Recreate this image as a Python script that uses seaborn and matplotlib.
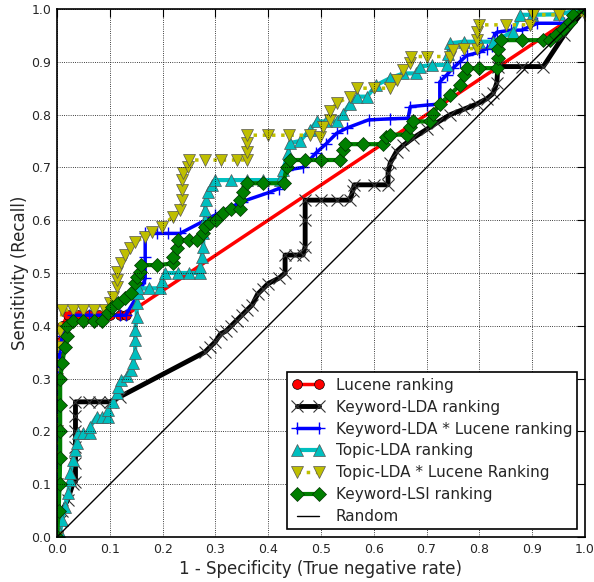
import matplotlib
matplotlib.use("Agg")
import matplotlib.pyplot as plt
import seaborn as sns

# ---------------- data ----------------
lucene_x = [0.0, 0.0, 0.0, 0.0, 0.0, 0.0, 0.0, 0.002, 0.005, 0.01, 0.02, 0.04, 0.06, 0.08, 0.10, 0.12, 0.13, 1.0]
lucene_y = [0.0, 0.05, 0.10, 0.15, 0.20, 0.25, 0.30, 0.34, 0.37, 0.40, 0.42, 0.42, 0.42, 0.42, 0.42, 0.42, 0.42, 1.0]

kwlda_x = [0.0, 0.005, 0.01, 0.02, 0.03, 0.035, 0.035, 0.035, 0.035, 0.035, 0.035, 0.06, 0.08, 0.10,
           0.12, 0.28, 0.29, 0.30, 0.31, 0.32, 0.33, 0.34, 0.35, 0.36, 0.37, 0.38, 0.39, 0.40, 0.42,
           0.432, 0.432, 0.45, 0.466, 0.47, 0.47, 0.47, 0.50, 0.53, 0.555, 0.56, 0.563, 0.60, 0.627,
           0.627, 0.631, 0.643, 0.656, 0.675, 0.70, 0.72, 0.745, 0.77, 0.795, 0.814, 0.826, 0.833,
           0.835, 0.88, 0.921, 0.96, 1.0]
kwlda_y = [0.0, 0.03, 0.05, 0.07, 0.10, 0.105, 0.14, 0.17, 0.20, 0.23, 0.256, 0.256, 0.256, 0.256,
           0.266, 0.35, 0.36, 0.37, 0.385, 0.39, 0.40, 0.41, 0.42, 0.43, 0.44, 0.46, 0.47, 0.48, 0.49,
           0.50, 0.534, 0.534, 0.534, 0.55, 0.60, 0.638, 0.638, 0.638, 0.638, 0.655, 0.667, 0.667, 0.667,
           0.69, 0.708, 0.73, 0.742, 0.756, 0.772, 0.785, 0.80, 0.81, 0.82, 0.83, 0.84, 0.86,
           0.891, 0.891, 0.891, 0.95, 1.0]

kwlda_luc_x = [0.0, 0.0, 0.0, 0.0, 0.005, 0.01, 0.02, 0.03, 0.06, 0.09, 0.12, 0.13, 0.16, 0.167, 0.167,
               0.167, 0.19, 0.21, 0.233, 0.30, 0.35, 0.40, 0.42, 0.435, 0.466, 0.49, 0.51, 0.53, 0.55,
               0.59, 0.63, 0.665, 0.669, 0.70, 0.725, 0.725, 0.738, 0.75, 0.763, 0.776, 0.80, 0.814,
               0.823, 0.826, 0.833, 0.86, 0.88, 0.91, 0.96, 0.98, 1.0]
kwlda_luc_y = [0.0, 0.10, 0.20, 0.30, 0.35, 0.38, 0.40, 0.42, 0.42, 0.42, 0.42, 0.42, 0.47, 0.49, 0.53,
               0.575, 0.575, 0.575, 0.575, 0.61, 0.635, 0.652, 0.66, 0.695, 0.70, 0.727, 0.745, 0.765, 0.775,
               0.79, 0.792, 0.793, 0.815, 0.818, 0.82, 0.862, 0.875, 0.888, 0.90, 0.912, 0.918, 0.925,
               0.93, 0.945, 0.956, 0.96, 0.96, 0.973, 0.973, 0.99, 1.0]

tlda_x = [0.0, 0.006, 0.009, 0.015, 0.021, 0.025, 0.025, 0.03, 0.034, 0.037, 0.04, 0.05, 0.063, 0.063,
          0.075, 0.085, 0.097, 0.097, 0.106, 0.113, 0.116, 0.122, 0.132, 0.141, 0.144, 0.148, 0.148,
          0.148, 0.151, 0.151, 0.153, 0.154, 0.175, 0.195, 0.198, 0.205, 0.23, 0.25, 0.27, 0.271, 0.274,
          0.277, 0.277, 0.28, 0.28, 0.283, 0.286, 0.293, 0.30, 0.33, 0.36, 0.39, 0.422, 0.428, 0.438,
          0.441, 0.46, 0.479, 0.492, 0.51, 0.53, 0.542, 0.555, 0.568, 0.587, 0.605, 0.631, 0.656, 0.68,
          0.687, 0.71, 0.738, 0.741, 0.744, 0.77, 0.80, 0.826, 0.864, 0.877, 0.90, 0.95, 1.0]
tlda_y = [0.0, 0.008, 0.032, 0.057, 0.083, 0.108, 0.121, 0.146, 0.165, 0.178, 0.197, 0.197, 0.197, 0.209,
          0.228, 0.228, 0.228, 0.24, 0.256, 0.272, 0.285, 0.297, 0.304, 0.316, 0.329, 0.348, 0.373,
          0.392, 0.417, 0.443, 0.462, 0.471, 0.471, 0.471, 0.484, 0.50, 0.50, 0.50, 0.50, 0.512, 0.531,
          0.55, 0.575, 0.60, 0.619, 0.638, 0.654, 0.667, 0.676, 0.676, 0.676, 0.676, 0.676, 0.695, 0.727,
          0.746, 0.75, 0.771, 0.787, 0.787, 0.787, 0.802, 0.821, 0.834, 0.834, 0.856, 0.869, 0.878, 0.878,
          0.891, 0.894, 0.894, 0.915, 0.935, 0.938, 0.938, 0.938, 0.957, 0.989, 0.989, 0.99, 1.0]

tlda_luc_x = [0.0, 0.0, 0.0, 0.0, 0.0, 0.005, 0.01, 0.03, 0.05, 0.07, 0.091, 0.10, 0.106, 0.113, 0.113,
              0.113, 0.122, 0.129, 0.138, 0.148, 0.167, 0.179, 0.198, 0.22, 0.233, 0.236, 0.236, 0.236,
              0.239, 0.248, 0.25, 0.28, 0.31, 0.34, 0.359, 0.359, 0.359, 0.36, 0.40, 0.44, 0.479, 0.498,
              0.504, 0.517, 0.517, 0.53, 0.555, 0.568, 0.60, 0.631, 0.643, 0.656, 0.669, 0.67, 0.70, 0.744,
              0.75, 0.77, 0.795, 0.795, 0.795, 0.80, 0.85, 0.896, 0.902, 0.95, 1.0, 1.0]
tlda_luc_y = [0.0, 0.10, 0.20, 0.30, 0.36, 0.39, 0.43, 0.43, 0.43, 0.43, 0.43, 0.443, 0.455, 0.474, 0.487,
              0.502, 0.518, 0.534, 0.547, 0.559, 0.569, 0.578, 0.588, 0.607, 0.619, 0.638, 0.657, 0.676,
              0.689, 0.701, 0.714, 0.714, 0.714, 0.714, 0.714, 0.73, 0.746, 0.761, 0.761, 0.761, 0.761, 0.758,
              0.777, 0.79, 0.806, 0.822, 0.834, 0.85, 0.85, 0.85, 0.866, 0.884, 0.897, 0.91, 0.91, 0.91,
              0.922, 0.925, 0.925, 0.941, 0.957, 0.97, 0.97, 0.97, 0.989, 0.989, 0.989, 1.0]

lsi_x = [0.0, 0.003, 0.005, 0.006, 0.006, 0.006, 0.006, 0.01, 0.015, 0.018, 0.018, 0.03, 0.05, 0.07, 0.085,
         0.097, 0.104, 0.116, 0.129, 0.141, 0.148, 0.151, 0.157, 0.16, 0.19, 0.22, 0.22, 0.227, 0.23, 0.25,
         0.265, 0.277, 0.28, 0.29, 0.302, 0.314, 0.33, 0.347, 0.347, 0.353, 0.36, 0.39, 0.429, 0.435, 0.441,
         0.47, 0.50, 0.536, 0.542, 0.545, 0.58, 0.618, 0.624, 0.631, 0.662, 0.669, 0.675, 0.706, 0.712,
         0.725, 0.744, 0.763, 0.77, 0.776, 0.80, 0.833, 0.836, 0.836, 0.84, 0.88, 0.92, 0.934, 0.946,
         0.959, 0.972, 0.978, 1.0]
lsi_y = [0.0, 0.05, 0.10, 0.15, 0.20, 0.25, 0.30, 0.33, 0.36, 0.38, 0.40, 0.409, 0.409, 0.409, 0.409,
         0.424, 0.436, 0.443, 0.452, 0.462, 0.481, 0.493, 0.502, 0.515, 0.515, 0.518, 0.531, 0.547, 0.5625,
         0.5625, 0.5625, 0.575, 0.588, 0.594, 0.60, 0.613, 0.622, 0.622, 0.638, 0.654, 0.67, 0.67, 0.67,
         0.701, 0.714, 0.714, 0.714, 0.714, 0.733, 0.744, 0.744, 0.744, 0.758, 0.762, 0.762, 0.777, 0.787,
         0.787, 0.802, 0.82, 0.837, 0.856, 0.875, 0.888, 0.888, 0.888, 0.907, 0.925, 0.941, 0.941, 0.941,
         0.941, 0.951, 0.963, 0.976, 0.989, 1.0]

random_x = [0.0, 1.0]
random_y = [0.0, 1.0]

x_ticks = [0.0, 0.1, 0.2, 0.3, 0.4, 0.5, 0.6, 0.7, 0.8, 0.9, 1.0]
y_ticks = [0.0, 0.1, 0.2, 0.3, 0.4, 0.5, 0.6, 0.7, 0.8, 0.9, 1.0]

# ---------------- style ----------------
sns.set_style("white")
plt.rcParams['font.family'] = ['DejaVu Sans']
plt.rcParams['xtick.direction'] = 'in'
plt.rcParams['ytick.direction'] = 'in'

fig = plt.figure(figsize=(5.94, 5.82), dpi=100)
ax = fig.add_axes([57/594, 45/582, 528/594, 528/582])

series = [
    (lucene_x, lucene_y, "Lucene ranking", dict(color="#FF0000", marker="o", markersize=7, linewidth=2.5,
                                                 markeredgecolor="k", markeredgewidth=0.5, linestyle="-")),
    (kwlda_x, kwlda_y, "Keyword-LDA ranking", dict(color="#000000", marker="x", markersize=8, linewidth=3.5,
                                                    markeredgecolor="#333333", markeredgewidth=0.8, linestyle="-")),
    (kwlda_luc_x, kwlda_luc_y, "Keyword-LDA * Lucene ranking", dict(color="#0000FF", marker="+", markersize=9, linewidth=2.5,
                                                                   markeredgecolor="#0000FF", markeredgewidth=1.0, linestyle="-")),
    (tlda_x, tlda_y, "Topic-LDA ranking", dict(color="#00BFBF", marker="^", markersize=8, linewidth=3,
                                                markeredgecolor="#555555", markeredgewidth=0.5, linestyle="-")),
    (tlda_luc_x, tlda_luc_y, "Topic-LDA * Lucene Ranking", dict(color="#BFBF00", marker="v", markersize=8, linewidth=2.5,
                                                               markeredgecolor="#555555", markeredgewidth=0.5, linestyle=":")),
    (lsi_x, lsi_y, "Keyword-LSI ranking", dict(color="#007F00", marker="D", markersize=7, linewidth=3,
                                                markeredgecolor="#003300", markeredgewidth=0.5, linestyle="-")),
    (random_x, random_y, "Random", dict(color="#000000", linewidth=1.0, linestyle="-")),
]

for xs, ys, lab, kw in series:
    sns.lineplot(x=xs, y=ys, ax=ax, sort=False, estimator=None, label=lab, **kw)

ax.set_xlim(0, 1)
ax.set_ylim(0, 1)
ax.set_xticks(x_ticks)
ax.set_yticks(y_ticks)
ax.set_xticklabels([f"{t:.1f}" for t in x_ticks], fontsize=9)
ax.set_yticklabels([f"{t:.1f}" for t in y_ticks], fontsize=9)
ax.tick_params(axis='both', which='major', direction='in', length=6, width=0.8,
               top=True, right=True, color='k', pad=4)
ax.grid(True, linestyle=':', color='k', linewidth=0.6)
for s in ax.spines.values():
    s.set_color('k')
    s.set_linewidth(1.2)
ax.set_axisbelow(False)

ax.set_xlabel("1 - Specificity (True negative rate)", fontsize=12, labelpad=3)
ax.set_ylabel("Sensitivity (Recall)", fontsize=12, labelpad=2)

leg = ax.legend(loc="lower right", fontsize=11, numpoints=2, fancybox=False, framealpha=1,
                edgecolor='k', borderaxespad=0.5, handlelength=2.0, labelspacing=0.45,
                borderpad=0.35, handletextpad=0.8)
leg.get_frame().set_linewidth(1.2)

fig.savefig("out.png", dpi=100, facecolor="white")
